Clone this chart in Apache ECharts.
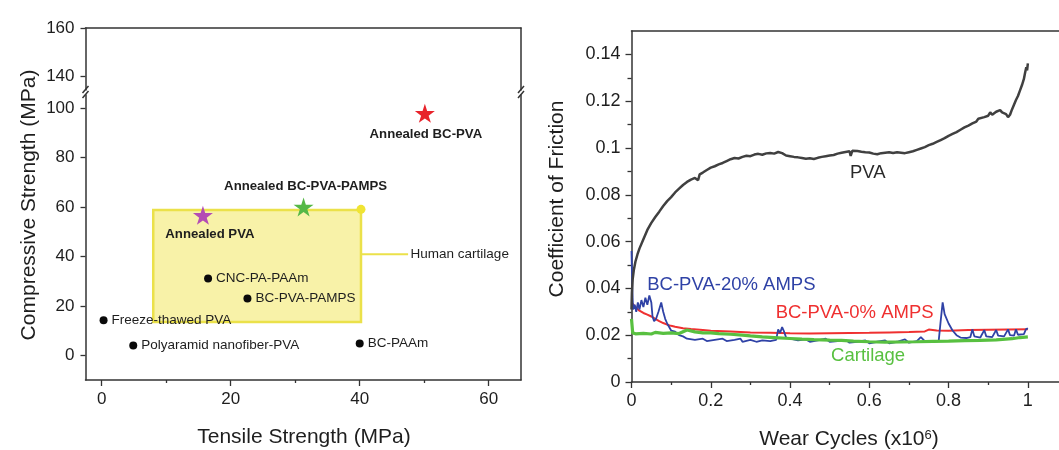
<!DOCTYPE html>
<html>
<head>
<meta charset="utf-8">
<title>Strength and friction</title>
<script src="https://cdn.jsdelivr.net/npm/echarts@6/dist/echarts.min.js"></script>
<style>
html,body{margin:0;padding:0;background:#fff;}
#main{width:1059px;height:450px;}
</style>
</head>
<body>
<div id="main"></div>
<script>
// ---- left panel: tensile vs compressive strength (MPa)
var dotNames = ['Freeze-thawed PVA', 'Polyaramid nanofiber-PVA', 'CNC-PA-PAAm', 'BC-PVA-PAMPS', 'BC-PAAm'];
var dotTensile = [0.3, 4.9, 16.5, 22.6, 40];
var dotCompressive = [14.2, 4.0, 31.1, 23.0, 4.8];

var starNames = ['Annealed BC-PVA', 'Annealed BC-PVA-PAMPS', 'Annealed PVA'];
var starTensile = [50.1, 31.3, 15.7];
var starCompressive = [98, 60.1, 56.7];

// human cartilage range
var cartilageBox = [[8, 58.8], [40.2, 13.5]];
var cartilageCorner = [40.2, 59.1];
var cartilageLink = [[40.2, 40.9], [47.5, 40.9]];

var tensileTicks = [0, 20, 40, 60];
var tensileMinor = [10, 30, 50];
var compTicksLow = [0, 20, 40, 60, 80, 100];
var compTicksHigh = [140, 160];

// ---- right panel: coefficient of friction vs wear cycles (x10^6)
var cycleTicks = [0, 0.2, 0.4, 0.6, 0.8, 1];
var cycleMinor = [0.1, 0.3, 0.5, 0.7, 0.9];
var cofTicks = [0, 0.02, 0.04, 0.06, 0.08, 0.1, 0.12, 0.14];
var cofMinor = [0.01, 0.03, 0.05, 0.07, 0.09, 0.11, 0.13];

var pva = [[0,0.031],[0.001,0.038],[0.003,0.044],[0.006,0.048],[0.01,0.0515],[0.015,0.0545],[0.02,0.057],
  [0.03,0.061],[0.04,0.065],[0.05,0.068],[0.06,0.0705],[0.07,0.0728],[0.08,0.0752],[0.09,0.0773],[0.1,0.079],
  [0.11,0.081],[0.12,0.0826],[0.13,0.0842],[0.14,0.0855],[0.15,0.0865],[0.16,0.0872],[0.165,0.0878],[0.168,0.0862],
  [0.172,0.0887],[0.18,0.0895],[0.19,0.0906],[0.2,0.0916],[0.21,0.0922],[0.22,0.093],[0.23,0.0936],[0.24,0.0944],
  [0.25,0.0952],[0.26,0.0957],[0.27,0.0955],[0.28,0.0962],[0.29,0.0967],[0.3,0.0965],[0.31,0.0972],[0.32,0.0975],
  [0.33,0.0971],[0.34,0.0977],[0.35,0.0979],[0.36,0.0976],[0.37,0.0983],[0.375,0.0986],[0.38,0.0978],[0.39,0.0968],
  [0.4,0.0965],[0.41,0.0962],[0.42,0.096],[0.43,0.0957],[0.44,0.0954],[0.45,0.0956],[0.46,0.0953],[0.47,0.0958],
  [0.48,0.0962],[0.49,0.0965],[0.5,0.0968],[0.51,0.097],[0.52,0.0976],[0.53,0.098],[0.54,0.0983],[0.55,0.0986],
  [0.553,0.0966],[0.557,0.0988],[0.57,0.0987],[0.58,0.0984],[0.59,0.0982],[0.6,0.0981],[0.61,0.0976],[0.62,0.0973],
  [0.63,0.0978],[0.64,0.098],[0.65,0.0982],[0.66,0.0979],[0.67,0.0982],[0.68,0.098],[0.69,0.0978],[0.7,0.0982],
  [0.71,0.0986],[0.72,0.0992],[0.73,0.0998],[0.74,0.1004],[0.75,0.1012],[0.76,0.1018],[0.77,0.1026],[0.78,0.1034],
  [0.79,0.1042],[0.8,0.1052],[0.81,0.106],[0.82,0.1068],[0.83,0.1078],[0.84,0.1088],[0.85,0.1096],[0.86,0.1105],
  [0.87,0.1113],[0.875,0.1125],[0.88,0.1118],[0.89,0.1132],[0.9,0.1138],[0.905,0.1152],[0.91,0.1142],[0.92,0.1155],
  [0.925,0.1148],[0.93,0.1162],[0.935,0.1152],[0.94,0.1158],[0.945,0.1145],[0.95,0.1132],[0.955,0.1142],[0.96,0.1165],
  [0.965,0.1185],[0.97,0.1205],[0.975,0.1222],[0.98,0.1245],[0.985,0.1268],[0.99,0.1295],[0.993,0.1322],[0.996,0.1345],
  [0.998,0.1332],[1.0,0.1362]];

var amps0 = [[0,0.034],[0.01,0.032],[0.02,0.0305],[0.03,0.0295],[0.04,0.0288],[0.05,0.028],[0.06,0.027],[0.07,0.026],
  [0.08,0.0252],[0.09,0.0245],[0.1,0.024],[0.11,0.0236],[0.13,0.023],[0.15,0.0226],[0.18,0.0222],[0.2,0.0219],
  [0.25,0.0216],[0.3,0.0212],[0.35,0.021],[0.4,0.0208],[0.45,0.0207],[0.5,0.0208],[0.55,0.0209],[0.6,0.021],
  [0.65,0.0212],[0.7,0.0214],[0.74,0.0216],[0.75,0.0224],[0.77,0.022],[0.8,0.0219],[0.85,0.0222],[0.9,0.0223],
  [0.95,0.0224],[1.0,0.0225]];

var amps20 = [[0,0.056],[0.002,0.04],[0.004,0.031],[0.008,0.033],[0.012,0.03],[0.016,0.034],[0.02,0.031],
  [0.025,0.035],[0.03,0.032],[0.035,0.036],[0.04,0.033],[0.045,0.037],[0.05,0.034],[0.053,0.028],[0.057,0.026],
  [0.062,0.027],[0.068,0.03],[0.075,0.034],[0.08,0.03],[0.085,0.027],[0.09,0.025],[0.095,0.0235],[0.1,0.022],
  [0.11,0.0215],[0.12,0.02],[0.13,0.0195],[0.14,0.0185],[0.16,0.018],[0.18,0.0185],[0.19,0.0175],[0.21,0.018],
  [0.23,0.0185],[0.24,0.0175],[0.26,0.018],[0.275,0.0185],[0.28,0.0172],[0.3,0.018],[0.315,0.0172],[0.33,0.0178],
  [0.35,0.0175],[0.365,0.018],[0.37,0.0225],[0.375,0.021],[0.38,0.0235],[0.385,0.0215],[0.39,0.019],[0.4,0.0185],
  [0.42,0.0178],[0.44,0.0182],[0.45,0.0172],[0.47,0.0178],[0.49,0.0185],[0.5,0.0172],[0.52,0.0175],[0.54,0.018],
  [0.55,0.0168],[0.57,0.0172],[0.59,0.0178],[0.6,0.0165],[0.62,0.0172],[0.64,0.0178],[0.65,0.0165],[0.67,0.0172],
  [0.69,0.0182],[0.7,0.0168],[0.72,0.0175],[0.73,0.0192],[0.74,0.0175],[0.76,0.0172],[0.775,0.0175],[0.78,0.026],
  [0.785,0.034],[0.79,0.029],[0.795,0.0285],[0.8,0.025],[0.81,0.022],[0.82,0.02],[0.83,0.019],[0.845,0.0188],
  [0.855,0.0192],[0.86,0.0225],[0.865,0.0195],[0.88,0.019],[0.89,0.0222],[0.895,0.0195],[0.91,0.0192],[0.92,0.0222],
  [0.925,0.0198],[0.94,0.0195],[0.95,0.0225],[0.955,0.02],[0.965,0.0198],[0.97,0.0225],[0.975,0.0202],[0.99,0.0205],
  [0.995,0.0225],[1.0,0.023]];

var cartilage = [[0,0.027],[0.003,0.021],[0.01,0.0206],[0.03,0.0208],[0.05,0.0205],[0.06,0.0212],[0.08,0.0208],
  [0.1,0.021],[0.12,0.0207],[0.14,0.0222],[0.16,0.0214],[0.18,0.021],[0.2,0.021],[0.22,0.0207],[0.25,0.0204],
  [0.28,0.02],[0.3,0.0197],[0.33,0.0193],[0.36,0.019],[0.4,0.0186],[0.43,0.0183],[0.46,0.0181],[0.5,0.0179],
  [0.53,0.0178],[0.56,0.0175],[0.6,0.0172],[0.64,0.017],[0.68,0.0171],[0.72,0.0172],[0.76,0.0174],[0.8,0.0175],
  [0.84,0.0177],[0.88,0.0178],[0.92,0.018],[0.96,0.0185],[0.98,0.019],[1.0,0.0193]];

// curve names written next to the curves
var curveNames = ['PVA', 'BC-PVA-20% AMPS', 'BC-PVA-0% AMPS', 'Cartilage'];
var curveNameX = [0.596, 0.252, 0.563, 0.597];
var curveNameY = [0.0894, 0.0414, 0.0296, 0.0111];

var FONT = 'Liberation Sans, Arial, sans-serif';
var INK = '#1e1e1e';
var starColors = ['#e8232b', '#55b846', '#b44cb4'];
var curveColors = ['#404040', '#2f42a6', '#ef3030', '#58c040'];
var starPath = 'path://M50,0 L61,35 L98,35 L68,57 L79,91 L50,70 L21,91 L32,57 L2,35 L39,35 Z';

function lineAxis(extra) {
	var o = {
		type: 'value',
		axisLine: { show: true, onZero: false, lineStyle: { color: '#333', width: 1.5 } },
		axisTick: { show: false },
		axisLabel: { show: false },
		splitLine: { show: false }
	};
	for (var k in extra) o[k] = extra[k];
	return o;
}
function tickAxis(ticks, len, label, margin, extra) {
	var o = lineAxis(extra);
	o.axisTick = { show: true, inside: false, length: len, customValues: ticks, lineStyle: { color: '#333', width: 1.3 } };
	if (label) {
		o.axisLabel = { show: true, customValues: ticks, margin: margin, color: INK, fontSize: label, fontFamily: FONT };
	}
	return o;
}
var noLine = { show: false, onZero: false };
// invisible anchor for text-only marks
var hidden = { color: 'rgba(0,0,0,0)', opacity: 1 };

var myChart = echarts.init(document.getElementById('main'));

var option = {
	animation: false,
	backgroundColor: '#fff',
	grid: [
		// left, below the break
		{ left: 85.5, top: 95, width: 435.5, height: 285, outerBoundsMode: 'none', containLabel: false },
		// left, above the break
		{ left: 85.5, top: 28, width: 435.5, height: 62, outerBoundsMode: 'none', containLabel: false },
		// right panel (runs past the right edge)
		{ left: 631.5, top: 31, width: 436, height: 351, outerBoundsMode: 'none', containLabel: false }
	],
	xAxis: [
		tickAxis(tensileTicks, 6, 17, 11, { gridIndex: 0, min: -2.5, max: 65, position: 'bottom' }),
		tickAxis(tensileMinor, 3, 0, 0, { gridIndex: 0, min: -2.5, max: 65, position: 'bottom', axisLine: noLine }),
		lineAxis({ gridIndex: 1, min: -2.5, max: 65, position: 'top' }),
		tickAxis(cycleTicks, 6, 18, 10, { gridIndex: 2, min: 0, max: 1.1, position: 'bottom' }),
		tickAxis(cycleMinor, 3, 0, 0, { gridIndex: 2, min: 0, max: 1.1, position: 'bottom', axisLine: noLine }),
		lineAxis({ gridIndex: 2, min: 0, max: 1.1, position: 'top' })
	],
	yAxis: [
		tickAxis(compTicksLow, 5, 17, 11, { gridIndex: 0, min: -10, max: 105.4, position: 'left' }),
		lineAxis({ gridIndex: 0, min: -10, max: 105.4, position: 'right' }),
		tickAxis(compTicksHigh, 5, 17, 11, { gridIndex: 1, min: 134.4, max: 160, position: 'left' }),
		lineAxis({ gridIndex: 1, min: 134.4, max: 160, position: 'right' }),
		tickAxis(cofTicks, 6, 18, 11, { gridIndex: 2, min: 0, max: 0.15, position: 'left' }),
		tickAxis(cofMinor, 4, 0, 0, { gridIndex: 2, min: 0, max: 0.15, position: 'left', axisLine: noLine })
	],
	series: [
		// cartilage box + connector
		{
			type: 'line', xAxisIndex: 0, yAxisIndex: 0, z: 1,
			data: cartilageLink, symbol: 'none',
			lineStyle: { color: '#ebe14a', width: 2 },
			markArea: {
				silent: true,
				itemStyle: { color: '#f8f2a8', borderColor: '#ebe14a', borderWidth: 2.5, opacity: 1 },
				data: [[{ coord: cartilageBox[0] }, { coord: cartilageBox[1] }]]
			}
		},
		{
			type: 'scatter', xAxisIndex: 0, yAxisIndex: 0, z: 3,
			data: [{ name: 'Human cartilage', value: cartilageLink[1] }],
			symbolSize: 1, itemStyle: hidden,
			label: { show: true, position: 'right', distance: 2, formatter: '{b}', color: INK, fontSize: 13.5, fontFamily: FONT }
		},
		{
			type: 'scatter', xAxisIndex: 0, yAxisIndex: 0, z: 3,
			data: [cartilageCorner], symbolSize: 9, itemStyle: { color: '#f0e434', opacity: 1 }
		},
		{
			type: 'scatter', xAxisIndex: 0, yAxisIndex: 0, z: 4,
			data: dotNames.map(function (n, i) { return { name: n, value: [dotTensile[i], dotCompressive[i]] }; }),
			symbolSize: 8, itemStyle: { color: '#0a0a0a', opacity: 1 },
			label: { show: true, position: 'right', distance: 4, formatter: '{b}', color: INK, fontSize: 13.5, fontFamily: FONT }
		},
		{
			type: 'scatter', xAxisIndex: 0, yAxisIndex: 0, z: 5,
			symbol: starPath, symbolSize: [20, 19],
			data: starNames.map(function (n, i) {
				var pos = [['bottom', [1, 0], 5], ['top', [2, 0], 5], ['bottom', [7, 0], 3]][i];
				return {
					name: n, value: [starTensile[i], starCompressive[i]],
					itemStyle: { color: starColors[i], opacity: 1 },
					label: { position: pos[0], offset: pos[1], distance: pos[2] }
				};
			}),
			label: { show: true, formatter: '{b}', color: INK, fontSize: 13.2, fontWeight: 'bold', fontFamily: FONT }
		},
		// friction curves
		{ type: 'line', xAxisIndex: 3, yAxisIndex: 4, data: amps0, showSymbol: false, z: 2,
			lineStyle: { color: curveColors[2], width: 2 } },
		{ type: 'line', xAxisIndex: 3, yAxisIndex: 4, data: amps20, showSymbol: false, z: 3,
			lineStyle: { color: curveColors[1], width: 1.8 } },
		{ type: 'line', xAxisIndex: 3, yAxisIndex: 4, data: cartilage, showSymbol: false, z: 4,
			lineStyle: { color: curveColors[3], width: 3.2 } },
		{ type: 'line', xAxisIndex: 3, yAxisIndex: 4, data: pva, showSymbol: false, z: 5,
			lineStyle: { color: curveColors[0], width: 2.5 } },
		{
			type: 'scatter', xAxisIndex: 3, yAxisIndex: 4, z: 6,
			symbolSize: 1, itemStyle: hidden,
			data: curveNames.map(function (n, i) {
				return { name: n, value: [curveNameX[i], curveNameY[i]], label: { color: i === 0 ? '#2a2a2a' : curveColors[i] } };
			}),
			label: { show: true, position: 'inside', formatter: '{b}', fontSize: 18.5, fontFamily: FONT }
		}
	],
	graphic: [
		{ type: 'text', x: 29, y: 205, rotation: Math.PI / 2,
			style: { text: 'Compressive Strength (MPa)', align: 'center', verticalAlign: 'middle', fill: INK, fontSize: 21, fontFamily: FONT } },
		{ type: 'text', x: 304, y: 437,
			style: { text: 'Tensile Strength (MPa)', align: 'center', verticalAlign: 'middle', fill: INK, fontSize: 21, fontFamily: FONT } },
		{ type: 'text', x: 557, y: 199, rotation: Math.PI / 2,
			style: { text: 'Coefficient of Friction', align: 'center', verticalAlign: 'middle', fill: INK, fontSize: 21, fontFamily: FONT } },
		{ type: 'text', x: 849, y: 439,
			style: { text: 'Wear Cycles (x10{sup|6})', align: 'center', verticalAlign: 'middle', fill: INK, fontSize: 21, fontFamily: FONT,
				rich: { sup: { fontSize: 13, verticalAlign: 'top', fill: INK, fontFamily: FONT } } } },
		// axis break marks
		{ type: 'line', shape: { x1: 82.5, y1: 93, x2: 88.5, y2: 86 }, style: { stroke: '#333', lineWidth: 1.5 } },
		{ type: 'line', shape: { x1: 82.5, y1: 98, x2: 88.5, y2: 91 }, style: { stroke: '#333', lineWidth: 1.5 } },
		{ type: 'line', shape: { x1: 518, y1: 93, x2: 524, y2: 86 }, style: { stroke: '#333', lineWidth: 1.5 } },
		{ type: 'line', shape: { x1: 518, y1: 98, x2: 524, y2: 91 }, style: { stroke: '#333', lineWidth: 1.5 } }
	]
};

myChart.setOption(option);
</script>
</body>
</html>
